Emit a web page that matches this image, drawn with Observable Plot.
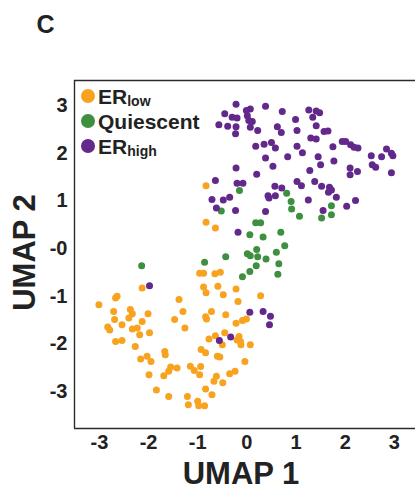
<!DOCTYPE html>
<html>
<head>
<meta charset="utf-8">
<script src="https://cdn.jsdelivr.net/npm/d3@7"></script>
<script src="https://cdn.jsdelivr.net/npm/@observablehq/plot@0.6"></script>
<style>
  html, body { margin: 0; padding: 0; background: #fff; }
  #chart { position: relative; width: 415px; height: 491px; overflow: hidden; }
</style>
</head>
<body>
<div id="chart"></div>
<script>
// ---- data (UMAP coordinates) ----
const groupNames = ["ERlow", "Quiescent", "ERhigh"];
const groupColors = ["#F8A320", "#3F8F40", "#63288B"];
const xTicks = [-3, -2, -1, 0, 1, 2, 3];
const yTicks = [3, 2, 1, 0, -1, -2, -3];
const yTickLabels = ["3", "2", "1", "-0", "-1", "-2", "-3"];

const erLow = [
  [-0.83,1.32],[-0.83,0.55],[-0.64,0.43],[-0.96,-0.52],[-0.88,-0.52],[-0.65,-0.53],[-0.54,-0.50],
  [-2.13,-0.83],[-0.88,-0.81],[-0.83,-0.93],[-0.59,-0.79],[-0.48,-0.97],[-0.22,-0.85],[-0.18,-1.11],
  [0.28,-0.99],[-3.01,-1.18],[-2.67,-1.04],[-2.64,-1.00],[-2.71,-1.32],[-2.69,-1.49],[-2.37,-1.28],
  [-2.33,-1.37],[-2.40,-1.46],[-2.01,-1.37],[-2.13,-1.53],[-2.54,-1.60],[-2.83,-1.65],[-2.79,-1.71],
  [-2.33,-1.69],[-2.23,-1.67],[-2.18,-1.81],[-1.98,-1.77],[-2.67,-1.95],[-2.54,-1.93],[-2.27,-2.06],
  [-2.16,-2.32],[-2.03,-2.26],[-1.95,-2.37],[-1.67,-2.16],[-1.66,-2.23],[-1.99,-2.65],[-1.55,-2.49],
  [-1.59,-2.58],[-1.69,-2.67],[-1.42,-2.51],[-1.84,-2.97],[-1.59,-3.11],[-1.38,-1.07],[-1.30,-1.32],
  [-1.47,-1.49],[-1.26,-1.67],[-1.21,-3.11],[-1.19,-3.28],[-1.15,-2.47],[-0.94,-2.48],[-1.07,-2.56],
  [-0.96,-2.65],[-0.84,-2.95],[-1.00,-3.21],[-0.98,-3.30],[-0.86,-3.30],[-0.71,-3.07],[-0.93,-2.12],
  [-0.84,-2.19],[-0.77,-1.90],[-0.64,-1.83],[-0.45,-1.77],[-0.50,-2.02],[-0.16,-1.85],[-0.20,-1.92],
  [-0.13,-1.95],[-0.12,-2.02],[0.07,-2.02],[-0.60,-2.26],[-0.55,-2.28],[-0.04,-2.37],[-0.62,-2.68],
  [-0.67,-2.79],[-0.49,-2.82],[-0.35,-2.63],[-0.24,-2.58],[-0.72,-1.32],[-0.84,-1.43],[-0.82,-1.48],
  [-0.43,-1.39],[-0.22,-1.57],[-0.09,-1.51],[-0.01,-1.48]
];

const quiescent = [
  [-0.15,1.22],[0.81,1.16],[0.90,0.99],[0.91,0.83],[1.07,0.68],[1.72,0.90],[1.72,0.71],[1.52,0.64],
  [-0.52,0.79],[0.18,0.54],[0.28,0.54],[0.06,0.29],[0.33,0.24],[0.69,0.34],[0.77,0.06],[0.20,-0.02],
  [0.01,-0.11],[0.07,-0.15],[0.22,-0.17],[0.39,-0.22],[0.60,-0.08],[0.65,-0.32],[0.19,-0.36],
  [0.06,-0.48],[-0.09,-0.59],[0.63,-0.54],[-0.43,-0.17],[-0.86,-0.29],[-2.14,-0.36]
];

const erHigh = [
  [-0.22,3.03],[0.07,2.93],[-0.01,2.90],[0.38,2.99],[-0.45,2.83],[-0.30,2.76],[-0.20,2.74],[0.01,2.79],
  [0.04,2.69],[0.11,2.67],[-0.57,2.60],[-0.39,2.57],[-0.22,2.56],[0.07,2.55],[-0.23,2.41],[0.72,2.88],
  [0.99,2.71],[1.26,2.91],[1.41,2.89],[1.48,2.85],[1.34,2.76],[1.41,2.58],[0.62,2.56],[0.70,2.44],
  [0.22,2.48],[1.02,2.48],[1.57,2.46],[1.65,2.47],[1.30,2.32],[1.41,2.30],[0.18,2.15],[0.35,2.19],
  [0.50,2.23],[0.58,2.11],[1.02,2.15],[1.13,2.01],[1.75,2.14],[1.94,2.25],[2.01,2.25],[2.11,2.18],
  [2.18,2.13],[2.26,2.11],[0.38,1.90],[0.83,1.93],[1.45,1.93],[1.50,1.76],[1.77,1.84],[0.53,1.73],
  [1.28,1.64],[2.10,1.69],[2.10,1.55],[2.25,1.62],[2.53,1.95],[2.74,1.93],[2.84,2.09],[2.94,2.00],
  [2.97,1.95],[2.55,1.76],[2.62,1.71],[2.94,1.59],[-0.22,1.69],[0.20,1.56],[-0.64,1.43],[-0.20,1.37],
  [-0.08,1.37],[0.57,1.31],[0.71,1.27],[1.02,1.41],[1.11,1.32],[1.38,1.41],[1.52,1.31],[1.68,1.29],
  [1.72,1.23],[1.66,1.18],[1.82,1.08],[2.21,1.01],[2.03,0.89],[-0.71,1.03],[-0.48,1.02],[-0.35,1.08],
  [-0.62,0.85],[-0.23,0.80],[0.43,1.11],[0.45,1.06],[0.58,1.11],[0.38,0.78],[1.25,1.02],[1.55,0.80],
  [-0.18,0.34],[-1.98,-0.78],[0.06,-1.34],[0.33,-1.32],[0.48,-1.42],[0.46,-1.60],[-0.56,-1.93],
  [-0.33,-1.86]
];

// ---- build table ----
const groupsData = [erLow, quiescent, erHigh];
const points = groupsData.flatMap((arr, gi) =>
  arr.map(([x, y]) => ({x, y, group: groupNames[gi]}))
);

const xDomain = [-3.506, 3.43];
const yDomain = [-3.78, 3.53];
const font = "'Liberation Sans', Arial, Helvetica, sans-serif";

const chart = Plot.plot({
  width: 415,
  height: 491,
  marginLeft: 74,
  marginRight: 0,
  marginTop: 80,
  marginBottom: 63,
  style: {fontFamily: font, background: "#fff", overflow: "visible"},
  x: {domain: xDomain},
  y: {domain: yDomain},
  color: {domain: groupNames, range: groupColors},
  marks: [
    Plot.ruleX([xDomain[0]], {stroke: "#2b2b2b", strokeWidth: 1.4}),
    Plot.ruleY(yDomain, {stroke: "#2b2b2b", strokeWidth: 1.4}),
    Plot.axisX({ticks: xTicks, tickSize: 0, tickPadding: 6, tickFormat: d => String(d),
      fontSize: 20, fontWeight: "bold", fill: "#222", label: null}),
    Plot.axisY({ticks: yTicks, tickSize: 0, tickPadding: 7,
      tickFormat: d => yTickLabels[yTicks.indexOf(d)],
      fontSize: 20, fontWeight: "bold", fill: "#222", label: null}),
    Plot.dot(points, {x: "x", y: "y", fill: "group", r: 3.5}),
    Plot.text(["UMAP 1"], {frameAnchor: "bottom", textAnchor: "middle", lineAnchor: "middle",
      dx: -4, dy: 46, fontSize: 31, fontWeight: "bold", fill: "#222"}),
    Plot.text(["UMAP 2"], {frameAnchor: "left", textAnchor: "middle", lineAnchor: "middle",
      rotate: -90, dx: -49, dy: -2, fontSize: 31, fontWeight: "bold", fill: "#222"}),
    Plot.text(["C"], {frameAnchor: "top-left", textAnchor: "middle", lineAnchor: "middle",
      dx: -29, dy: -56, fontSize: 25, fontWeight: "bold", fill: "#222"})
  ]
});

// ---- legend inside the frame (with subscripts) ----
const svg = d3.select(chart);
const leg = svg.append("g").attr("transform", "translate(88,96)")
  .attr("text-anchor", "start")
  .style("font-family", font).style("font-weight", "bold").attr("fill", "#222");
const legendParts = [["ER", "low"], ["Quiescent", ""], ["ER", "high"]];
legendParts.forEach(([main, sub], i) => {
  const row = leg.append("g").attr("transform", `translate(0,${i * 25})`);
  row.append("circle").attr("r", 7).attr("fill", groupColors[i]);
  const t = row.append("text").attr("x", 10).attr("y", 7.5)
    .attr("text-anchor", "start").style("font-size", "21px");
  t.append("tspan").text(main);
  if (sub) t.append("tspan").attr("dy", 2).style("font-size", "14px").text(sub);
});

document.getElementById("chart").appendChild(chart);
</script>
</body>
</html>
